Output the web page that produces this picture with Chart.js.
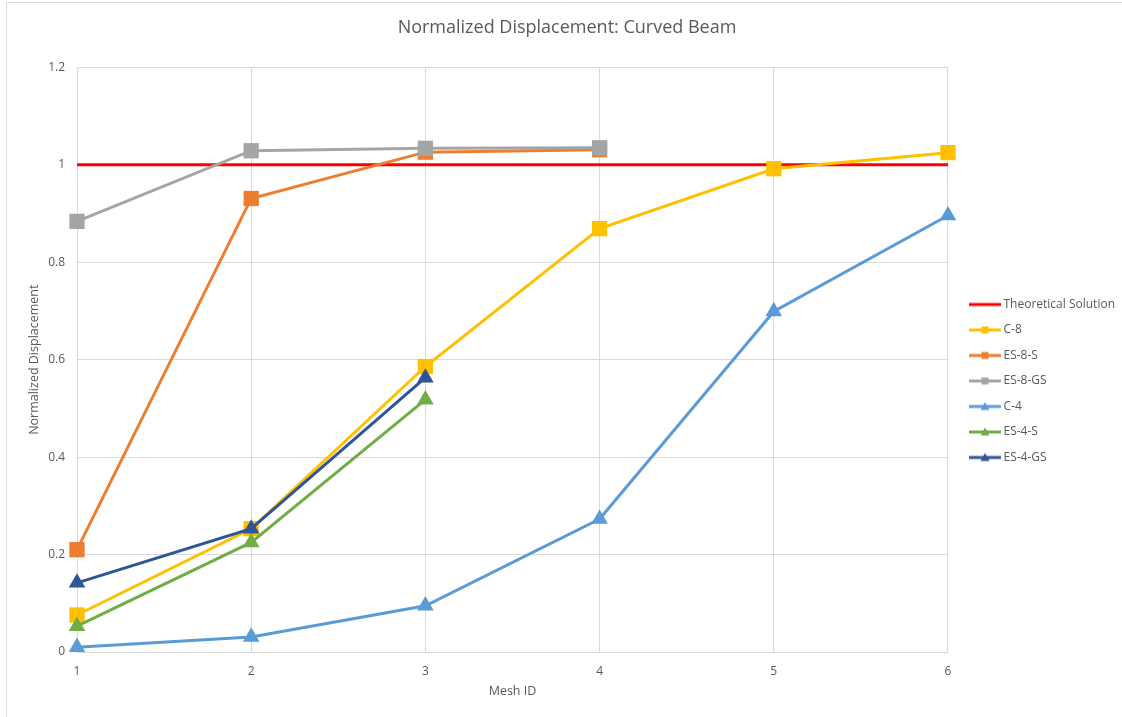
<!DOCTYPE html>
<html>
<head>
<meta charset="utf-8">
<script src="https://cdn.jsdelivr.net/npm/chart.js@4"></script>
<style>
  html, body { margin: 0; padding: 0; background: #ffffff; }
  #wrap { width: 1122px; height: 717px; }
</style>
</head>
<body>
<div id="wrap"><canvas id="chart" width="1122" height="717"></canvas></div>
<script>
// Mesh IDs along the x axis
const meshIds = [1, 2, 3, 4, 5, 6];
const yTicks = [0, 0.2, 0.4, 0.6, 0.8, 1, 1.2];

// Normalized displacement per element formulation
const theoretical = [1, 1, 1, 1, 1, 1];
const c8    = [0.076, 0.253, 0.586, 0.869, 0.992, 1.025];
const es8s  = [0.210, 0.931, 1.026, 1.031];
const es8gs = [0.884, 1.029, 1.034, 1.035];
const c4    = [0.010, 0.031, 0.095, 0.273, 0.699, 0.896];
const es4s  = [0.053, 0.225, 0.518];
const es4gs = [0.142, 0.253, 0.563];

const seriesNames = ['Theoretical Solution', 'C-8', 'ES-8-S', 'ES-8-GS', 'C-4', 'ES-4-S', 'ES-4-GS'];
const seriesValues = [theoretical, c8, es8s, es8gs, c4, es4s, es4gs];
const seriesColors = ['#FF0000', '#FFC000', '#ED7D31', '#A5A5A5', '#5B9BD5', '#70AD47', '#2F5597'];
const seriesMarkers = [false, 'rect', 'rect', 'rect', 'triangle', 'triangle', 'triangle'];

const FONT = "'Open Sans', 'Liberation Sans', sans-serif";
const TEXT = '#595959';
const GRID = '#D9D9D9';

// Legend swatch: a short line with the series marker in the middle
function legendSwatch(color, marker) {
  const c = document.createElement('canvas');
  c.width = 32; c.height = 14;
  const g = c.getContext('2d');
  g.strokeStyle = color;
  g.lineWidth = 3;
  g.beginPath(); g.moveTo(0, 7); g.lineTo(32, 7); g.stroke();
  g.fillStyle = color;
  if (marker === 'rect') {
    g.fillRect(12.5, 3.5, 7, 7);
  } else if (marker === 'triangle') {
    g.beginPath(); g.moveTo(16, 2.5); g.lineTo(20.5, 10.5); g.lineTo(11.5, 10.5); g.closePath(); g.fill();
  }
  return c;
}

const datasets = seriesNames.map((name, i) => ({
  label: name,
  data: seriesValues[i].map((v, k) => ({ x: meshIds[k], y: v })),
  borderColor: seriesColors[i],
  backgroundColor: seriesColors[i],
  borderWidth: 3,
  pointStyle: seriesMarkers[i] || false,
  pointRadius: seriesMarkers[i] === 'rect' ? 10.8 : (seriesMarkers[i] ? 9.6 : 0),
  pointBorderWidth: 0,
  pointBackgroundColor: seriesColors[i],
  tension: 0,
  clip: false,
  order: seriesNames.length - i,
  swatch: legendSwatch(seriesColors[i], seriesMarkers[i])
}));

// Chart frame (left and top edges)
const framePlugin = {
  id: 'frame',
  beforeDraw(chart) {
    const ctx = chart.ctx;
    ctx.save();
    ctx.fillStyle = '#ffffff';
    ctx.fillRect(0, 0, chart.width, chart.height);
    ctx.strokeStyle = '#D9D9D9';
    ctx.lineWidth = 1;
    ctx.beginPath();
    ctx.moveTo(6.5, chart.height);
    ctx.lineTo(6.5, 2.5);
    ctx.lineTo(chart.width, 2.5);
    ctx.stroke();
    ctx.restore();
  }
};

// Nudge the legend box away from the plot and down a little
const legendOffset = {
  id: 'legendOffset',
  afterLayout(chart) {
    const lg = chart.legend;
    if (!lg) return;
    lg.left += 11; lg.right += 11;
    lg.top += 25; lg.bottom += 25;
  }
};

new Chart(document.getElementById('chart'), {
  type: 'line',
  data: { datasets },
  plugins: [framePlugin, legendOffset],
  options: {
    responsive: false,
    animation: false,
    events: [],
    layout: { padding: { left: 20, right: 8, top: 0, bottom: 5 } },
    plugins: {
      title: {
        display: true,
        text: 'Normalized Displacement: Curved Beam',
        color: TEXT,
        font: { family: FONT, size: 18, weight: 'normal' },
        padding: { top: 17, bottom: 28.8 }
      },
      legend: {
        position: 'right',
        align: 'center',
        labels: {
          usePointStyle: true,
          pointStyleWidth: 25,
          boxHeight: 12,
          padding: 13.5,
          color: TEXT,
          font: { family: FONT, size: 12 },
          generateLabels(chart) {
            return chart.data.datasets.map((ds, i) => ({
              text: ds.label,
              datasetIndex: i,
              pointStyle: ds.swatch,
              fillStyle: ds.borderColor,
              strokeStyle: ds.borderColor,
              lineWidth: 0,
              fontColor: TEXT,
              hidden: false
            }));
          },
          sort: (a, b) => a.datasetIndex - b.datasetIndex
        }
      },
      tooltip: { enabled: false }
    },
    scales: {
      x: {
        type: 'linear',
        min: 1,
        max: 6,
        afterFit(scale) { scale.height = 60; },
        afterBuildTicks(scale) { scale.ticks = meshIds.map(v => ({ value: v })); },
        ticks: {
          color: TEXT,
          font: { family: FONT, size: 12 },
          padding: 12,
          callback: v => String(v)
        },
        grid: { color: GRID, lineWidth: 1, drawTicks: false },
        border: { display: false },
        title: {
          display: true,
          text: 'Mesh ID',
          color: TEXT,
          font: { family: FONT, size: 12.5 },
          padding: { top: 0, bottom: 13 }
        }
      },
      y: {
        min: 0,
        max: 1.2,
        afterFit(scale) { scale.width = 57; },
        afterBuildTicks(scale) { scale.ticks = yTicks.map(v => ({ value: v })); },
        ticks: {
          color: TEXT,
          font: { family: FONT, size: 12 },
          padding: 12,
          callback: v => String(v)
        },
        grid: { color: GRID, lineWidth: 1, drawTicks: false },
        border: { display: false },
        title: {
          display: true,
          text: 'Normalized Displacement',
          color: TEXT,
          font: { family: FONT, size: 12.5 },
          padding: { top: 7, bottom: 0 }
        }
      }
    }
  }
});
</script>
</body>
</html>
